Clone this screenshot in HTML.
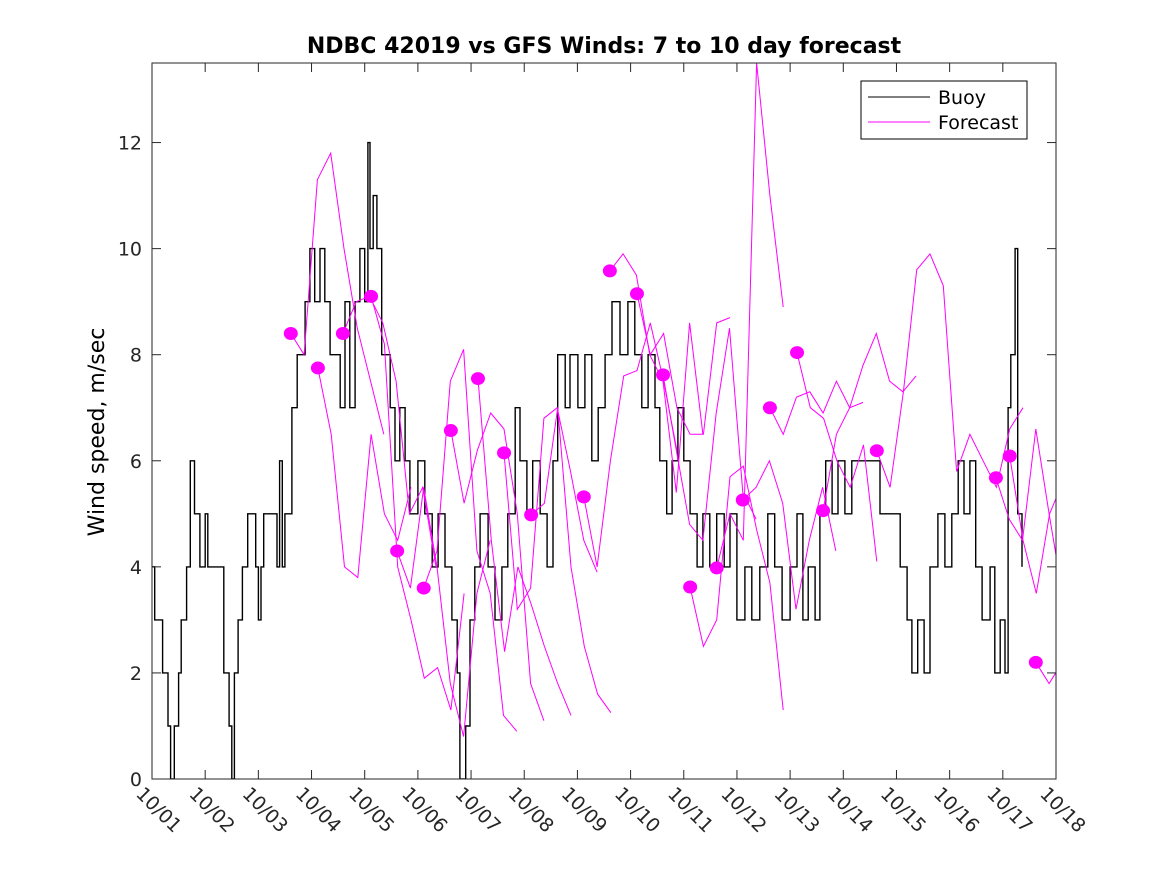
<!DOCTYPE html>
<html><head><meta charset="utf-8"><style>
body{margin:0;background:#fff;width:1167px;height:875px;overflow:hidden;font-family:"Liberation Sans","DejaVu Sans",sans-serif}
svg{display:block}
</style></head><body>
<svg id="chart" width="1167" height="875" xmlns="http://www.w3.org/2000/svg">
<defs><clipPath id="clip"><rect x="152" y="63" width="904" height="716"/></clipPath></defs>
<rect width="1167" height="875" fill="#fff"/>
<text x="604" y="53" text-anchor="middle" font-family="DejaVu Sans, sans-serif" font-weight="bold" font-size="22">NDBC 42019 vs GFS Winds: 7 to 10 day forecast</text>
<text transform="translate(104,432) rotate(-90)" text-anchor="middle" font-family="DejaVu Sans, sans-serif" font-size="22">Wind speed, m/sec</text>
<g id="plot"></g>
<g>
<rect x="861" y="81" width="166" height="58" fill="#fff" stroke="#000" stroke-width="1"/>
<line x1="868" y1="97" x2="930" y2="97" stroke="#000" stroke-width="1"/>
<text x="938" y="104" font-family="DejaVu Sans, sans-serif" font-size="19">Buoy</text>
<line x1="868" y1="122" x2="930" y2="122" stroke="#ff00ff" stroke-width="1"/>
<text x="938" y="129" font-family="DejaVu Sans, sans-serif" font-size="19">Forecast</text>
</g>
</svg>
<script>
const xTickLabels=["10/01","10/02","10/03","10/04","10/05","10/06","10/07","10/08","10/09","10/10","10/11","10/12","10/13","10/14","10/15","10/16","10/17","10/18"];
const yTicks=[0,2,4,6,8,10,12];
const buoyDay=[0,0.05,0.2,0.3,0.35,0.42,0.5,0.55,0.65,0.72,0.8,0.9,1.0,1.05,1.35,1.45,1.5,1.55,1.62,1.7,1.8,1.95,2.0,2.05,2.1,2.3,2.35,2.4,2.45,2.5,2.63,2.73,2.88,2.97,3.06,3.16,3.25,3.35,3.54,3.63,3.72,3.82,3.91,4.0,4.06,4.1,4.16,4.23,4.32,4.48,4.57,4.66,4.76,4.85,5.0,5.13,5.27,5.38,5.51,5.64,5.74,5.79,5.9,5.98,6.07,6.17,6.32,6.45,6.58,6.69,6.83,6.92,7.05,7.16,7.3,7.43,7.54,7.63,7.77,7.86,8.01,8.14,8.27,8.39,8.52,8.65,8.8,8.95,9.08,9.21,9.33,9.46,9.55,9.68,9.78,9.89,10.0,10.12,10.25,10.36,10.49,10.62,10.76,10.87,11.0,11.15,11.28,11.43,11.58,11.71,11.85,12.0,12.13,12.24,12.34,12.47,12.56,12.67,12.79,12.9,13.03,13.16,13.31,13.5,13.69,13.92,14.07,14.2,14.29,14.4,14.52,14.63,14.78,14.91,15.04,15.16,15.27,15.38,15.49,15.61,15.76,15.85,15.95,16.04,16.1,16.15,16.23,16.28,16.36];
const buoySpeed=[4,3,2,1,0,1,2,3,4,6,5,4,5,4,2,1,0,2,3,4,5,4,3,4,5,5,4,6,4,5,7,8,9,10,9,10,9,8,7,9,7,9,10,9,12,10,11,10,8,7,6,7,6,5,6,5,4,5,4,3,2,0,1,3,4,5,4,3,4,5,7,6,5,6,5,4,6,8,7,8,7,8,6,7,8,9,8,9,8,7,8,7,6,5,6,7,6,5,4,5,4,5,4,5,3,4,3,4,5,4,3,4,5,3,4,3,5,6,5,6,5,6,6,6,5,5,4,3,2,3,2,4,5,4,5,6,5,6,4,3,4,2,3,2,7,8,10,5,4];
const fcStart=[2.61,3.12,3.59,4.12,4.61,5.11,5.62,6.13,6.62,7.13,8.12,8.61,9.12,9.61,10.12,10.62,11.11,11.62,12.13,12.62,13.63,15.87,16.13,16.62];
const fcVals=[
[8.4,8.0,11.3,11.8,10,8.5,7.5,6.5],
[7.75,6.5,4.0,3.8,6.5,5.0,4.5,5.5],
[8.4,9.0,9.1,8.6,7.5,5,5.5,4],
[9.1,8.2,4,3,1.9,2.1,1.3,3.5],
[4.3,3.6,5.5,4.0,1.8,0.8,3.5,4.5],
[3.6,4.3,7.5,8.1,4.3,3.5,1.2,0.9],
[6.57,5.2,6.2,6.9,6.6,5,1.8,1.1],
[7.55,4.5,2.4,4.0,3.3,2.5,1.8,1.2],
[6.15,3.2,3.6,6.8,7.0,5.8,4.5,3.9],
[4.98,5.2,7.0,4.0,2.5,1.6,1.25],
[5.32,4.0,6.0,7.6,7.7,8.6,7.5,6.2],
[9.58,9.9,9.5,8.0,7.5,5.4,8.6,6.5],
[9.15,8.0,8.4,7.0,6.5,6.5,8.6,8.7],
[7.62,6.2,4.8,4.5,6.9,8.5,5.4,4.9],
[3.62,2.5,3.0,5.7,5.9,4.7,3.7,1.3],
[3.98,5.0,4.5,13.5,11.0,8.9],
[5.26,5.5,6.0,5.2,3.2,4.5,5.5,4.3],
[7.0,6.5,7.2,7.3,6.9,7.5,7.0,7.1],
[8.04,7.0,6.8,6.0,5.5,6.3,4.1],
[5.06,6.5,7.0,7.8,8.4,7.5,7.3,7.6],
[6.19,5.5,7.3,9.6,9.9,9.3,5.8,6.5,6.0,5.5,6.6,7.0],
[5.68,4.9,4.5,6.6,5.0,3.5,3.2,3.1],
[6.09,4.5,3.5,5.0,5.6,6.3],
[2.2,1.8,2.2,3.3]];
const X0=152,X1=1056,Y0=779,Y1=63,DMAX=17,VMAX=13.5;
const xs=d=>X0+(X1-X0)*d/DMAX;
const ys=v=>Y0-(Y0-Y1)*v/VMAX;
const NS="http://www.w3.org/2000/svg";
const plot=document.getElementById('plot');
function mk(tag,attrs,parent){const e=document.createElementNS(NS,tag);for(const k in attrs)e.setAttribute(k,attrs[k]);(parent||plot).appendChild(e);return e;}
const data=mk('g',{'clip-path':'url(#clip)'});
let d="M"+xs(buoyDay[0])+","+ys(buoySpeed[0]);
for(let i=1;i<buoyDay.length;i++){d+=" H"+xs(buoyDay[i]).toFixed(1)+" V"+ys(buoySpeed[i]).toFixed(1);}
const bl=mk('path',{d:d,fill:'none',stroke:'#000','stroke-width':1.4},data);


fcStart.forEach((s,i)=>{
  const pts=fcVals[i].map((v,j)=>xs(s+j*0.25).toFixed(1)+","+ys(v).toFixed(1)).join(" ");
  const pl=mk('polyline',{points:pts,fill:'none',stroke:'#ff00ff','stroke-width':1},data);
  
  
});
fcStart.forEach((s,i)=>{
  const c=mk('ellipse',{cx:xs(s),cy:ys(fcVals[i][0]),rx:7,ry:6.5,fill:'#ff00ff'},data);
  
  
});
const ax=mk('rect',{x:X0,y:Y1,width:X1-X0,height:Y0-Y1,fill:'none',stroke:'#262626','stroke-width':1});


yTicks.forEach(v=>{
  const y=ys(v);
  mk('line',{x1:X0,y1:y,x2:X0+9,y2:y,stroke:'#262626'});
  mk('line',{x1:X1,y1:y,x2:X1-9,y2:y,stroke:'#262626'});
  const t=mk('text',{x:X0-10,y:y+7,'text-anchor':'end','font-family':'DejaVu Sans, sans-serif','font-size':19,fill:'#262626'});
  t.textContent=v;
  
  
});
xTickLabels.forEach((lab,i)=>{
  const x=xs(i);
  mk('line',{x1:x,y1:Y0,x2:x,y2:Y0-9,stroke:'#262626'});
  mk('line',{x1:x,y1:Y1,x2:x,y2:Y1+9,stroke:'#262626'});
  const t=mk('text',{transform:`translate(${x-17},${Y0+16}) rotate(45)`,'font-family':'DejaVu Sans, sans-serif','font-size':19,fill:'#262626'});
  t.textContent=lab;
  
  
});
</script>
</body></html>
